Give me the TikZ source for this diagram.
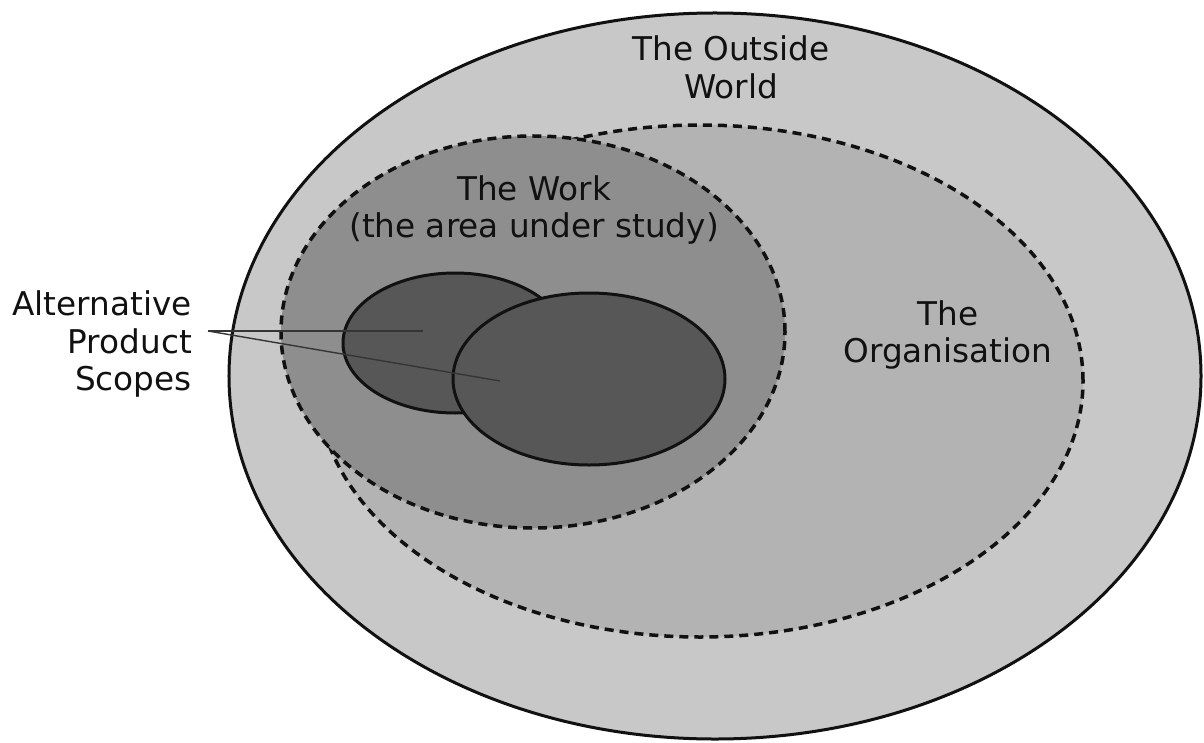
\documentclass[tikz,border=0pt]{standalone}
\usepackage{fontspec}
\newfontfamily\handfont{DejaVu Sans}
\usetikzlibrary{shapes.geometric}
\definecolor{worldgray}{HTML}{C8C8C8}
\definecolor{orggray}{HTML}{B3B3B3}
\definecolor{workgray}{HTML}{8E8E8E}
\definecolor{scopegray}{HTML}{575757}
\definecolor{inkmain}{HTML}{111111}
\tikzset{region/.style={ellipse,inner sep=0pt,draw=inkmain},
solidrim/.style={region,line width=3bp},
dashrim/.style={region,line width=3.5bp,dash pattern=on 9bp off 6bp},
lbl/.style={align=center,inner sep=0pt,font=\handfont\fontsize{32.8}{38}\selectfont,text=inkmain},
pointer/.style={line width=1.4bp,inkmain!85}}

\begin{document}
\begin{tikzpicture}[x=1bp,y=-1bp]
\useasboundingbox (0,0) rectangle (1204,743);
% nested regions, outermost first
\node[solidrim,fill=worldgray,minimum width=972bp,minimum height=726bp] (world) at (715,376) {};
\node[dashrim,fill=orggray,minimum width=766bp,minimum height=512bp] (org) at (700,381) {};
\node[dashrim,fill=workgray,minimum width=504bp,minimum height=392bp] (work) at (533,332) {};
\node[solidrim,fill=scopegray,minimum width=224bp,minimum height=140bp] (scopeA) at (455,343) {};
\node[solidrim,fill=scopegray,minimum width=272bp,minimum height=172bp] (scopeB) at (589,379) {};
% labels
\node[lbl] (worldtxt) at (731,67) {The Outside\\World};
\node[lbl] (worktxt) at (534,210) {The Work\\(the area under study)};
\node[lbl] (orgtxt) at (948,335) {The\\Organisation};
\node[lbl,align=right,anchor=east] (scopetxt) at (192,344) {Alternative\\Product\\Scopes};
% pointers to the scopes
\coordinate (fork) at (208,331);
\coordinate (tipA) at (423,331);
\coordinate (tipB) at (500,381);
\draw[pointer] (fork) -- (tipA);
\draw[pointer] (fork) -- (tipB);
\end{tikzpicture}
\end{document}
